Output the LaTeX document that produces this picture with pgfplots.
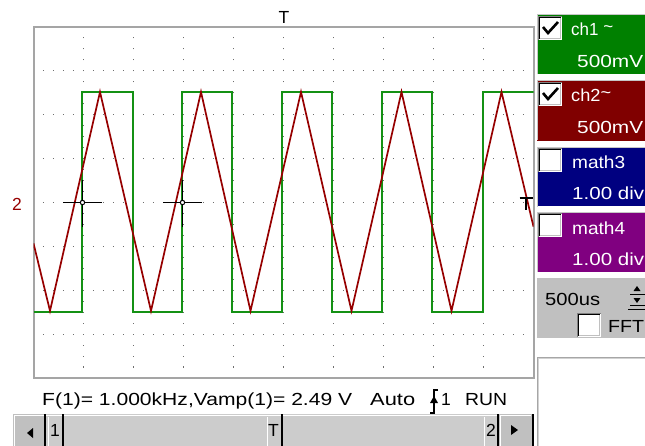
\documentclass[border=0pt]{standalone}
\usepackage{pgfplots}
\pgfplotsset{compat=1.18}
\usepackage{fontspec}
\setmainfont{Liberation Sans}
\newcommand\tw[2]{\resizebox{#1pt}{\height}{#2}}
\definecolor{trgreen}{RGB}{20,145,20}
\definecolor{trred}{RGB}{150,0,0}
\definecolor{bgreen}{RGB}{0,128,0}
\definecolor{bred}{RGB}{128,0,0}
\definecolor{bblue}{RGB}{0,0,128}
\definecolor{bpurple}{RGB}{128,0,128}
\definecolor{panel}{RGB}{192,192,192}
\definecolor{track}{RGB}{204,204,204}
\definecolor{framegray}{RGB}{165,165,165}
\definecolor{dotgray}{RGB}{110,110,110}
\newcommand\cbox[2]{%
  \fill[white] (#1,#2) rectangle ++(24,24);
  \draw[gray, line width=1pt] (#1+0.5,#2+24) -- (#1+0.5,#2+0.5) -- (#1+24,#2+0.5);
  \draw[black, line width=1pt] (#1+1.5,#2+23) -- (#1+1.5,#2+1.5) -- (#1+23,#2+1.5);
  \draw[panel, line width=1pt] (#1+1.5,#2+22.5) -- (#1+22.5,#2+22.5) -- (#1+22.5,#2+1.5);
}
\newcommand\cmark[2]{%
  \draw[black, line width=2.6pt] (#1+5,#2+11) -- (#1+10,#2+17) -- (#1+20,#2+6);
}
\begin{document}
\begin{tikzpicture}[x=1pt,y=-1pt,font=\fontsize{17.5}{19}\selectfont]
\path[use as bounding box] (0,0) rectangle (645,445);
\begin{axis}[at={(33.5pt,-378pt)}, anchor=south west, scale only axis,
  width=500pt, height=351pt, xmin=0, xmax=10, ymin=-4, ymax=4,
  xtick={1,...,9}, ytick={-3,...,3}, xticklabels={}, yticklabels={},
  major tick length=0pt, grid=major,
  x grid style={dotgray, line width=1.1pt, dash pattern=on 1.1pt off 9.87pt, dash phase=0.55pt},
  y grid style={dotgray, line width=1.1pt, dash pattern=on 1.1pt off 8.9pt, dash phase=0.55pt},
  axis line style={framegray, line width=2pt}]
\addplot[trgreen, line width=1.7pt] coordinates {
 (0,-2.49) (0.965,-2.49) (0.965,2.52) (1.996,2.52) (1.996,-2.49)
 (2.97,-2.49) (2.97,2.52) (3.976,2.52) (3.976,-2.49)
 (4.976,-2.49) (4.976,2.52) (5.976,2.52) (5.976,-2.49)
 (6.976,-2.49) (6.976,2.52) (7.976,2.52) (7.976,-2.49)
 (8.984,-2.49) (8.984,2.52) (10,2.52)};
\addplot[trred, line width=1.7pt] coordinates {
 (0,-0.93) (0.33,-2.47) (1.33,2.52) (2.35,-2.47) (3.35,2.52) (4.34,-2.47)
 (5.35,2.52) (6.36,-2.47) (7.36,2.52) (8.36,-2.47) (9.36,2.52) (10,-0.55)};
\addplot[black, line width=1.8pt] coordinates {(0.59,0) (1.37,0)};
\addplot[black, line width=1.8pt] coordinates {(0.98,0.51) (0.98,-0.55)};
\addplot[black, line width=1.8pt] coordinates {(2.59,0) (3.37,0)};
\addplot[black, line width=1.8pt] coordinates {(2.98,0.51) (2.98,-0.55)};
\addplot[only marks, mark=*, mark size=2.2pt, black, fill=white, line width=1pt] coordinates {(0.98,0) (2.98,0)};
\addplot[black, line width=1.3pt] coordinates {(9.72,0.1) (9.98,0.1)};
\addplot[black, line width=1.3pt] coordinates {(9.85,0.1) (9.85,-0.17)};
\end{axis}
% top trigger marker
\node[anchor=base, inner sep=0] at (284,23) {T};
\node[anchor=base, inner sep=0, trred] at (17,210) {2};
% bottom status text
\node[anchor=base west, inner sep=0] at (42,405) {\tw{310}{F(1)= 1.000kHz,Vamp(1)= 2.49 V}};
\node[anchor=base west, inner sep=0] at (370,405) {\tw{45}{Auto}};
\node[anchor=base west, inner sep=0] at (441,405) {1};
\node[anchor=base west, inner sep=0] at (465,405) {\tw{42}{RUN}};
\draw[black, line width=1.2pt] (438,390) -- (434,390) -- (434,413) -- (430,413);
\fill[black] (434,396) -- (430,403) -- (438,403) -- cycle;
% scrollbar
\fill[track] (13,414) rectangle (533,450);
\draw[white, line width=1.5pt] (13,415.5) -- (533,415.5);
\fill[panel] (13,414) rectangle (45,450);
\draw[white, line width=1pt] (14,450) -- (14,415.5) -- (44,415.5);
\fill[black] (27,433) -- (33,428) -- (33,438) -- cycle;
\draw[black, line width=2pt] (45,414) -- (45,450);
\draw[white, line width=1pt] (48,417) -- (48,450);
\node[anchor=base west, inner sep=0] at (50,436) {1};
\draw[black, line width=2pt] (63,414) -- (63,450);
\draw[white, line width=1pt] (267,417) -- (267,450);
\node[anchor=base west, inner sep=0] at (268,436) {T};
\draw[black, line width=2pt] (282,414) -- (282,450);
\draw[white, line width=1pt] (484,417) -- (484,450);
\node[anchor=base west, inner sep=0] at (486,436) {2};
\draw[black, line width=2pt] (498,414) -- (498,450);
\fill[panel] (499,414) rectangle (532,450);
\draw[white, line width=1pt] (500,450) -- (500,415.5) -- (531,415.5);
\fill[black] (518,430) -- (511,425) -- (511,435) -- cycle;
\draw[black, line width=2pt] (532.5,414) -- (532.5,450);
% right panel
\fill[bgreen] (537,14) rectangle (650,74);
\fill[bred] (537,80) rectangle (650,141);
\fill[bblue] (537,147) rectangle (650,206);
\fill[bpurple] (537,212) rectangle (650,272);
\foreach \t in {14,80,147,212} {\draw[gray!45, line width=0.8pt] (537.4,\t+60) -- (537.4,\t+0.4) -- (650,\t+0.4);}
\cbox{538}{16}\cmark{538}{16}
\cbox{538}{82}\cmark{538}{82}
\cbox{538}{148}
\cbox{538}{213}
\begin{scope}[white]
\node[anchor=base west, inner sep=0] at (571,35) {\tw{42}{ch1 \raisebox{0.3ex}{\char`\~}}};
\node[anchor=base west, inner sep=0] at (577,67) {\tw{66}{500mV}};
\node[anchor=base west, inner sep=0] at (571,101) {\tw{40}{ch2\raisebox{0.3ex}{\char`\~}}};
\node[anchor=base west, inner sep=0] at (577,133) {\tw{66}{500mV}};
\node[anchor=base west, inner sep=0] at (572,168) {\tw{53}{math3}};
\node[anchor=base west, inner sep=0] at (572,199) {\tw{72}{1.00 div}};
\node[anchor=base west, inner sep=0] at (572,234) {\tw{53}{math4}};
\node[anchor=base west, inner sep=0] at (572,265) {\tw{72}{1.00 div}};
\end{scope}
% timebase box
\fill[panel] (537,278) rectangle (650,338);
\node[anchor=base west, inner sep=0] at (545,305) {\tw{55}{500us}};
\fill[black] (637,286) -- (633.5,291) -- (640.5,291) -- cycle;
\draw[black, line width=1pt] (630,294.5) -- (645,294.5);
\fill[black] (633.5,298) -- (640.5,298) -- (637,303) -- cycle;
\draw[black, line width=1pt] (630,305.5) -- (645,305.5);
\draw[black, line width=1.2pt] (628,309.5) -- (645,309.5);
\cbox{577}{313}
\node[anchor=base west, inner sep=0] at (608,332) {\tw{36}{FFT}};
% empty box
\fill[white] (537,357) rectangle (650,450);
\draw[gray!70, line width=1pt] (537.5,450) -- (537.5,357.5) -- (650,357.5);
\draw[gray!35, line width=1pt] (538.5,450) -- (538.5,358.5) -- (650,358.5);
\end{tikzpicture}
\end{document}
